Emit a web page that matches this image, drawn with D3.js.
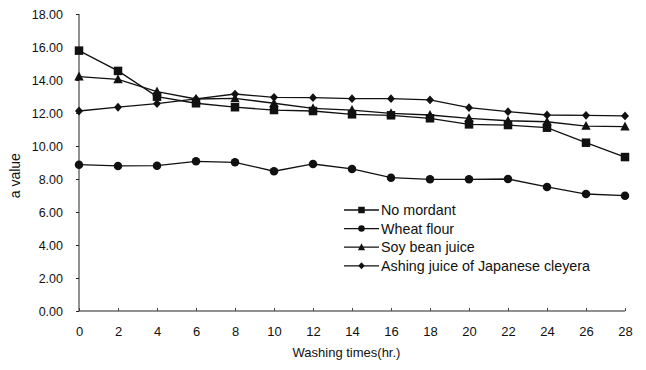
<!DOCTYPE html>
<html>
<head>
<meta charset="utf-8">
<script src="https://cdn.jsdelivr.net/npm/d3@7"></script>
<style>
  body { margin: 0; background: #fff; }
  text { font-family: "Liberation Sans", Arial, sans-serif; fill: #111; }
</style>
</head>
<body>
<div id="chart"></div>
<script>
// washing times (hr.)
let hours = [0, 2, 4, 6, 8, 10, 12, 14, 16, 18, 20, 22, 24, 26, 28];
let yTicks = [0, 2, 4, 6, 8, 10, 12, 14, 16, 18];

let seriesNames = ["No mordant", "Wheat flour", "Soy bean juice", "Ashing juice of Japanese cleyera"];
let seriesShapes = ["square", "circle", "triangle", "diamond"];

let noMordant = [15.78, 14.55, 12.99, 12.59, 12.35, 12.18, 12.12, 11.92, 11.86, 11.68, 11.31, 11.27, 11.11, 10.2, 9.33];
let wheatFlour = [8.87, 8.79, 8.81, 9.07, 9.01, 8.47, 8.91, 8.61, 8.08, 7.98, 7.98, 8.0, 7.52, 7.09, 6.99];
let soyBean = [14.2, 14.04, 13.29, 12.85, 12.89, 12.59, 12.28, 12.18, 11.98, 11.88, 11.68, 11.53, 11.47, 11.21, 11.17];
let ashing = [12.12, 12.35, 12.57, 12.85, 13.15, 12.95, 12.93, 12.87, 12.87, 12.79, 12.32, 12.08, 11.88, 11.86, 11.82];

let allSeries = [noMordant, wheatFlour, soyBean, ashing];

let margin = {top: 14, right: 21, bottom: 59, left: 79};
let totalW = 646, totalH = 370;
let width = totalW - margin.left - margin.right;
let height = totalH - margin.top - margin.bottom;

let svg = d3.select("#chart").append("svg")
  .attr("width", totalW)
  .attr("height", totalH)
  .append("g")
  .attr("transform", "translate(" + margin.left + "," + margin.top + ")");

let x = d3.scaleLinear().domain([0, 28]).range([0, width]);
let y = d3.scaleLinear().domain([0, 18]).range([height, 0]);

// y axis
let yAxis = d3.axisLeft(y).tickValues(yTicks).tickFormat(d3.format(".2f")).tickSize(3).tickPadding(13);
let yG = svg.append("g").call(yAxis);
yG.select(".domain").attr("d", "M0," + y(18) + "V" + y(0)).attr("stroke", "#222");
yG.selectAll(".tick line").attr("stroke", "#222");
yG.selectAll("text").style("font-size", "12.5px").attr("font-family", null);

// x axis
let xAxis = d3.axisBottom(x).tickValues(hours).tickSize(-3).tickPadding(16);
let xG = svg.append("g").attr("transform", "translate(0," + height + ")").call(xAxis);
xG.select(".domain").attr("d", "M0,0H" + width).attr("stroke", "#222");
xG.selectAll(".tick line").attr("stroke", "#444");
xG.selectAll("text").style("font-size", "13px").attr("font-family", null);

// axis titles
svg.append("text")
  .attr("transform", "translate(" + (-64) + "," + (y(8.2)) + ") rotate(-90)")
  .attr("text-anchor", "middle")
  .attr("dy", "0.35em")
  .style("font-size", "14px")
  .text("a value");

svg.append("text")
  .attr("x", 346.5 - margin.left)
  .attr("y", 352 - margin.top)
  .attr("dy", "0.35em")
  .attr("text-anchor", "middle")
  .style("font-size", "13px")
  .text("Washing times(hr.)");

let line = d3.line().x((d, i) => x(hours[i])).y(d => y(d));

function marker(g, shape, s) {
  if (shape === "square") {
    g.append("rect").attr("x", -s / 2).attr("y", -s / 2).attr("width", s).attr("height", s);
  } else if (shape === "circle") {
    g.append("circle").attr("r", s / 2);
  } else if (shape === "triangle") {
    g.append("path").attr("d", "M0," + (-s * 0.6) + "L" + (s * 0.55) + "," + (s * 0.45) + "L" + (-s * 0.55) + "," + (s * 0.45) + "Z");
  } else {
    g.append("path").attr("d", "M0," + (-s * 0.55) + "L" + (s * 0.5) + ",0L0," + (s * 0.55) + "L" + (-s * 0.5) + ",0Z");
  }
}

let markerSizes = [8.5, 8.5, 8.5, 8];

allSeries.forEach((vals, k) => {
  svg.append("path")
    .datum(vals)
    .attr("fill", "none")
    .attr("stroke", "#111")
    .attr("stroke-width", 1.3)
    .attr("d", line);

  vals.forEach((v, i) => {
    let g = svg.append("g")
      .attr("transform", "translate(" + x(hours[i]) + "," + y(v) + ")")
      .attr("fill", "#111");
    marker(g, seriesShapes[k], markerSizes[k]);
  });
});

// legend
let legend = svg.append("g").attr("transform", "translate(" + (344 - margin.left) + "," + (210 - margin.top) + ")");
seriesNames.forEach((name, k) => {
  let row = legend.append("g").attr("transform", "translate(0," + (k * 18.6) + ")");
  row.append("line").attr("x1", 0).attr("x2", 35).attr("y1", 0).attr("y2", 0)
    .attr("stroke", "#111").attr("stroke-width", 1.3);
  let m = row.append("g").attr("transform", "translate(17.5,0)").attr("fill", "#111");
  marker(m, seriesShapes[k], 6.5);
  row.append("text").attr("x", 37).attr("y", 0).attr("dy", "0.35em")
    .style("font-size", "14.3px").text(name);
});
</script>
</body>
</html>
